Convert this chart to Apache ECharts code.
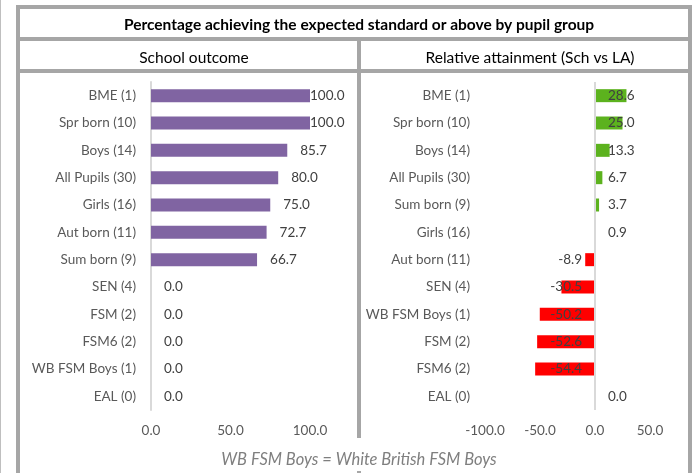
<!DOCTYPE html>
<html><head><meta charset="utf-8">
<script src="https://cdn.jsdelivr.net/npm/echarts@6/dist/echarts.min.js"></script>
<style>html,body{margin:0;padding:0;background:#fff}#c{width:697px;height:473px}</style>
</head><body><div id="c"></div>
<script>
const titleText = 'Percentage achieving the expected standard or above by pupil group';
const leftTitle = 'School outcome';
const rightTitle = 'Relative attainment (Sch vs LA)';
const footnote = 'WB FSM Boys = White British FSM Boys';

const schoolCategories = ['BME (1)','Spr born (10)','Boys (14)','All Pupils (30)','Girls (16)','Aut born (11)','Sum born (9)','SEN (4)','FSM (2)','FSM6 (2)','WB FSM Boys (1)','EAL (0)'];
const schoolValues = [100.0,100.0,85.7,80.0,75.0,72.7,66.7,0.0,0.0,0.0,0.0,0.0];
const schoolTicks = [0,50,100];

const relCategories = ['BME (1)','Spr born (10)','Boys (14)','All Pupils (30)','Sum born (9)','Girls (16)','Aut born (11)','SEN (4)','WB FSM Boys (1)','FSM (2)','FSM6 (2)','EAL (0)'];
const relValues = [28.6,25.0,13.3,6.7,3.7,0.9,-8.9,-30.5,-50.2,-52.6,-54.4,0.0];
const relTicks = [-100,-50,0,50];

const FONT = 'Lato';
const GRAY = '#A6A6A6';
const chart = echarts.init(document.getElementById('c'), null, {renderer:'canvas'});

const leftMax = schoolTicks[schoolTicks.length-1];
const leftData = schoolValues.map(v => ({
  value: v,
  label: {position: 'right', distance: v >= leftMax ? 0 : 13}
}));
const rightData = relValues.map(v => ({
  value: v,
  itemStyle: {color: v >= 0 ? '#5CB21E' : '#FF0000'},
  label: {position: v >= 0 ? 'insideLeft' : 'insideRight', distance: 13}
}));

const lbl = {show:true, color:'#404040', fontFamily:FONT, fontSize:13.5, formatter: p => Number(p.value).toFixed(1)};

function rect(x,y,w,h,c){return {type:'rect', shape:{x,y,width:w,height:h}, style:{fill:c||GRAY}, silent:true};}

chart.setOption({
  animation:false,
  title:[
    {text:titleText, left:354, top:12, textAlign:'center', textStyle:{fontFamily:FONT, fontSize:15.5, fontWeight:'bold', color:'#000'}},
    {text:leftTitle, left:189, top:45, textAlign:'center', textStyle:{fontFamily:FONT, fontSize:15.5, fontWeight:'normal', color:'#000'}},
    {text:rightTitle, left:525, top:45, textAlign:'center', textStyle:{fontFamily:FONT, fontSize:15.5, fontWeight:'normal', color:'#000'}},
    {text:footnote, left:354, top:446, textAlign:'center', textStyle:{fontFamily:FONT, fontSize:16.5, fontStyle:'italic', fontWeight:'normal', color:'#7F7F7F'}}
  ],
  graphic:[
    rect(0,0,1,473,'#BFBFBF'),
    rect(16,5,4,468),
    rect(16,5,676,4),
    rect(16,37,676,4),
    rect(16,69,676,4),
    rect(688,5,4,468),
    rect(357,37,4,401),
    rect(357,471,4,2)
  ],
  grid:[
    {left:151, top:82, width:159, height:328},
    {left:485, top:82, width:165, height:328}
  ],
  xAxis:[
    {gridIndex:0, type:'value', min:schoolTicks[0], max:leftMax, interval:50,
     axisLine:{show:false}, axisTick:{show:false}, splitLine:{show:false},
     axisLabel:{color:'#595959', fontFamily:FONT, fontSize:13.5, margin:14, formatter:v=>v.toFixed(1)}},
    {gridIndex:1, type:'value', min:relTicks[0], max:relTicks[relTicks.length-1], interval:50,
     axisLine:{show:false}, axisTick:{show:false}, splitLine:{show:false},
     axisLabel:{color:'#595959', fontFamily:FONT, fontSize:13.5, margin:14, formatter:v=>v.toFixed(1)}}
  ],
  yAxis:[
    {gridIndex:0, type:'category', inverse:true, data:schoolCategories,
     axisLine:{show:true, onZero:false, lineStyle:{color:'#D9D9D9', width:2}}, axisTick:{show:false},
     axisLabel:{color:'#595959', fontFamily:FONT, fontSize:13.5, margin:15}},
    {gridIndex:1, type:'category', inverse:true, data:relCategories,
     axisLine:{show:false, onZero:false}, axisTick:{show:false},
     axisLabel:{color:'#595959', fontFamily:FONT, fontSize:13.5, margin:15}}
  ],
  series:[
    {type:'bar', xAxisIndex:0, yAxisIndex:0, data:leftData, barWidth:13, itemStyle:{color:'#8064A2'}, label:lbl},
    {type:'bar', xAxisIndex:1, yAxisIndex:1, data:rightData, barWidth:13, label:lbl, z:2,
     markLine:{silent:true, symbol:['none','none'], label:{show:false}, lineStyle:{color:'#D9D9D9', width:2, type:'solid'}, data:[{xAxis:0}]}}
  ]
});
</script></body></html>
